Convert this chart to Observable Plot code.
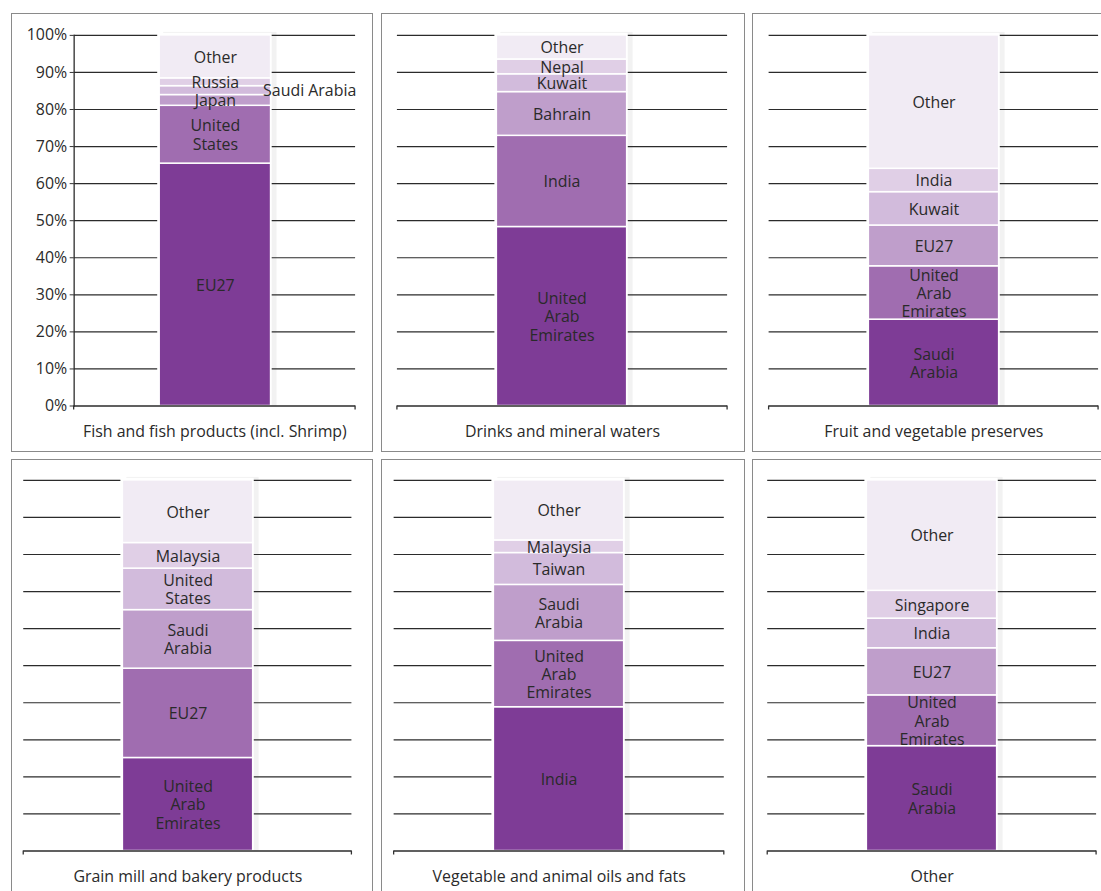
<!DOCTYPE html>
<html>
<head>
<meta charset="utf-8">
<script src="https://cdn.jsdelivr.net/npm/d3@7"></script>
<script src="https://cdn.jsdelivr.net/npm/@observablehq/plot@0.6"></script>
<style>
  html, body { margin: 0; padding: 0; background: #fff; }
  body { width: 1101px; height: 891px; overflow: hidden; position: relative; font-family: "Open Sans", sans-serif; }
  .panel { position: absolute; box-sizing: border-box; border: 1.5px solid #8a8a8a; }
  .panel svg { position: absolute; left: -1.5px; top: -1.5px; }
</style>
</head>
<body>
<div id="root"></div>
<script>
// ---------- data (shares in %, bottom segment first) ----------
const panelTitles = [
  "Fish and fish products (incl. Shrimp)",
  "Drinks and mineral waters",
  "Fruit and vegetable preserves",
  "Grain mill and bakery products",
  "Vegetable and animal oils and fats",
  "Other"
];

const fishNames  = ["EU27", "United\nStates", "Japan", "Saudi Arabia", "Russia", "Other"];
const fishShares = [65.4, 15.6, 2.9, 2.4, 2.1, 11.6];

const drinksNames  = ["United\nArab\nEmirates", "India", "Bahrain", "Kuwait", "Nepal", "Other"];
const drinksShares = [48.3, 24.6, 11.8, 4.8, 4.0, 6.5];

const fruitNames  = ["Saudi\nArabia", "United\nArab\nEmirates", "EU27", "Kuwait", "India", "Other"];
const fruitShares = [23.3, 14.4, 11.0, 9.0, 6.3, 36.0];

const grainNames  = ["United\nArab\nEmirates", "EU27", "Saudi\nArabia", "United\nStates", "Malaysia", "Other"];
const grainShares = [25.1, 24.1, 15.8, 11.2, 6.9, 16.9];

const oilsNames  = ["India", "United\nArab\nEmirates", "Saudi\nArabia", "Taiwan", "Malaysia", "Other"];
const oilsShares = [38.8, 17.9, 15.1, 8.6, 3.4, 16.2];

const otherNames  = ["Saudi\nArabia", "United\nArab\nEmirates", "EU27", "India", "Singapore", "Other"];
const otherShares = [28.3, 13.7, 12.7, 8.0, 7.5, 29.8];

const outsideLabels = ["Saudi Arabia"]; // labels drawn beside the bar (fish panel)

const yTicks = [0, 10, 20, 30, 40, 50, 60, 70, 80, 90, 100];
const shadeColors = ["#7e3c96", "#a06db0", "#bf9ecb", "#d2bbdc", "#e0cfe6", "#f1ebf4"];

// ---------- layout ----------
const layouts = [
  {left: 11,  top: 13,  w: 362, h: 439, mt: 22, mb: 44.3, ml: 63,   mr: 16,   yaxis: true},
  {left: 381, top: 13,  w: 364, h: 439, mt: 22, mb: 44.3, ml: 16,   mr: 16,   yaxis: false},
  {left: 752, top: 13,  w: 362, h: 439, mt: 22, mb: 44.3, ml: 16.7, mr: 14,   yaxis: false},
  {left: 11,  top: 459, w: 362, h: 440, mt: 21, mb: 46.3, ml: 12.3, mr: 19.7, yaxis: false},
  {left: 381, top: 459, w: 364, h: 440, mt: 21, mb: 46.3, ml: 12.7, mr: 19.3, yaxis: false},
  {left: 752, top: 459, w: 362, h: 440, mt: 21, mb: 46.3, ml: 15.3, mr: 16,   yaxis: false}
];

const panelNames  = [fishNames, drinksNames, fruitNames, grainNames, oilsNames, otherNames];
const panelShares = [fishShares, drinksShares, fruitShares, grainShares, oilsShares, otherShares];

function endTicks(index, scales, values, dims) {
  const g = d3.create("svg:g").attr("stroke", "#333").attr("stroke-width", 1.3);
  const yb = dims.height - dims.marginBottom;
  [dims.marginLeft, dims.width - dims.marginRight].forEach(x => {
    g.append("line").attr("x1", x).attr("x2", x).attr("y1", yb).attr("y2", yb + 4);
  });
  return g.node();
}

function makePanel(i) {
  const L = layouts[i];
  const title = panelTitles[i];
  const names = panelNames[i];
  const shares = panelShares[i];
  let acc = 0;
  const rows = names.map((n, k) => {
    const y1 = acc; acc += shares[k];
    return {cat: title, name: n, y1, y2: acc, mid: (y1 + acc) / 2, rank: k,
            outside: outsideLabels.includes(n) && i === 0};
  });
  const total = [{cat: title, lo: 0, hi: acc}];

  const marks = [
    // faint drop shadow of the bar
    Plot.barY(total, {x: "cat", y1: "lo", y2: "hi", fill: "#f2f2f2", insetLeft: 4, insetRight: -6, insetTop: -3}),
    Plot.ruleY(yTicks.filter(t => t > 0), {stroke: "#2b2b2b", strokeWidth: 1.2}),
    // white knockout round the bar
    Plot.barY(total, {x: "cat", y1: "lo", y2: "hi", fill: "white", insetLeft: -2, insetRight: -1, insetTop: -2}),
    Plot.barY(rows, {x: "cat", y1: "y1", y2: "y2", fill: "rank", stroke: "white", strokeWidth: 1.5}),
    Plot.ruleY([0], {stroke: "#2b2b2b", strokeWidth: 1.5}),
    endTicks,
    Plot.text(rows.filter(d => !d.outside), {x: "cat", y: "mid", text: "name", fill: "#2a2a2a", lineHeight: 1.15}),
    Plot.text(rows.filter(d => d.outside), {x: "cat", y: "mid", text: "name", fill: "#2a2a2a", textAnchor: "start", dx: 48}),
    Plot.text([title], {frameAnchor: "bottom", lineAnchor: "middle", dy: 26.5, text: d => d, fill: "#2a2a2a"})
  ];
  if (L.yaxis) {
    marks.push(Plot.axisY({ticks: yTicks, tickFormat: d => d + "%", tickSize: 4, tickPadding: 3, label: null, stroke: "#333"}));
    marks.push(Plot.frame({anchor: "left", stroke: "#2b2b2b", strokeWidth: 1.3}));
  }

  const svg = Plot.plot({
    width: L.w, height: L.h,
    marginTop: L.mt, marginBottom: L.mb, marginLeft: L.ml, marginRight: L.mr,
    x: {domain: [title], padding: 0.432, axis: null},
    y: {domain: [0, 100], axis: null},
    color: {type: "ordinal", domain: d3.range(6), range: shadeColors},
    style: {fontFamily: "'Open Sans', sans-serif", fontSize: "16px", color: "#2a2a2a", background: "transparent", overflow: "visible"},
    marks
  });

  const div = document.createElement("div");
  div.className = "panel";
  div.style.left = L.left + "px";
  div.style.top = L.top + "px";
  div.style.width = L.w + "px";
  div.style.height = L.h + "px";
  div.appendChild(svg);
  document.getElementById("root").appendChild(div);
}

for (let i = 0; i < 6; i++) makePanel(i);
</script>
</body>
</html>
